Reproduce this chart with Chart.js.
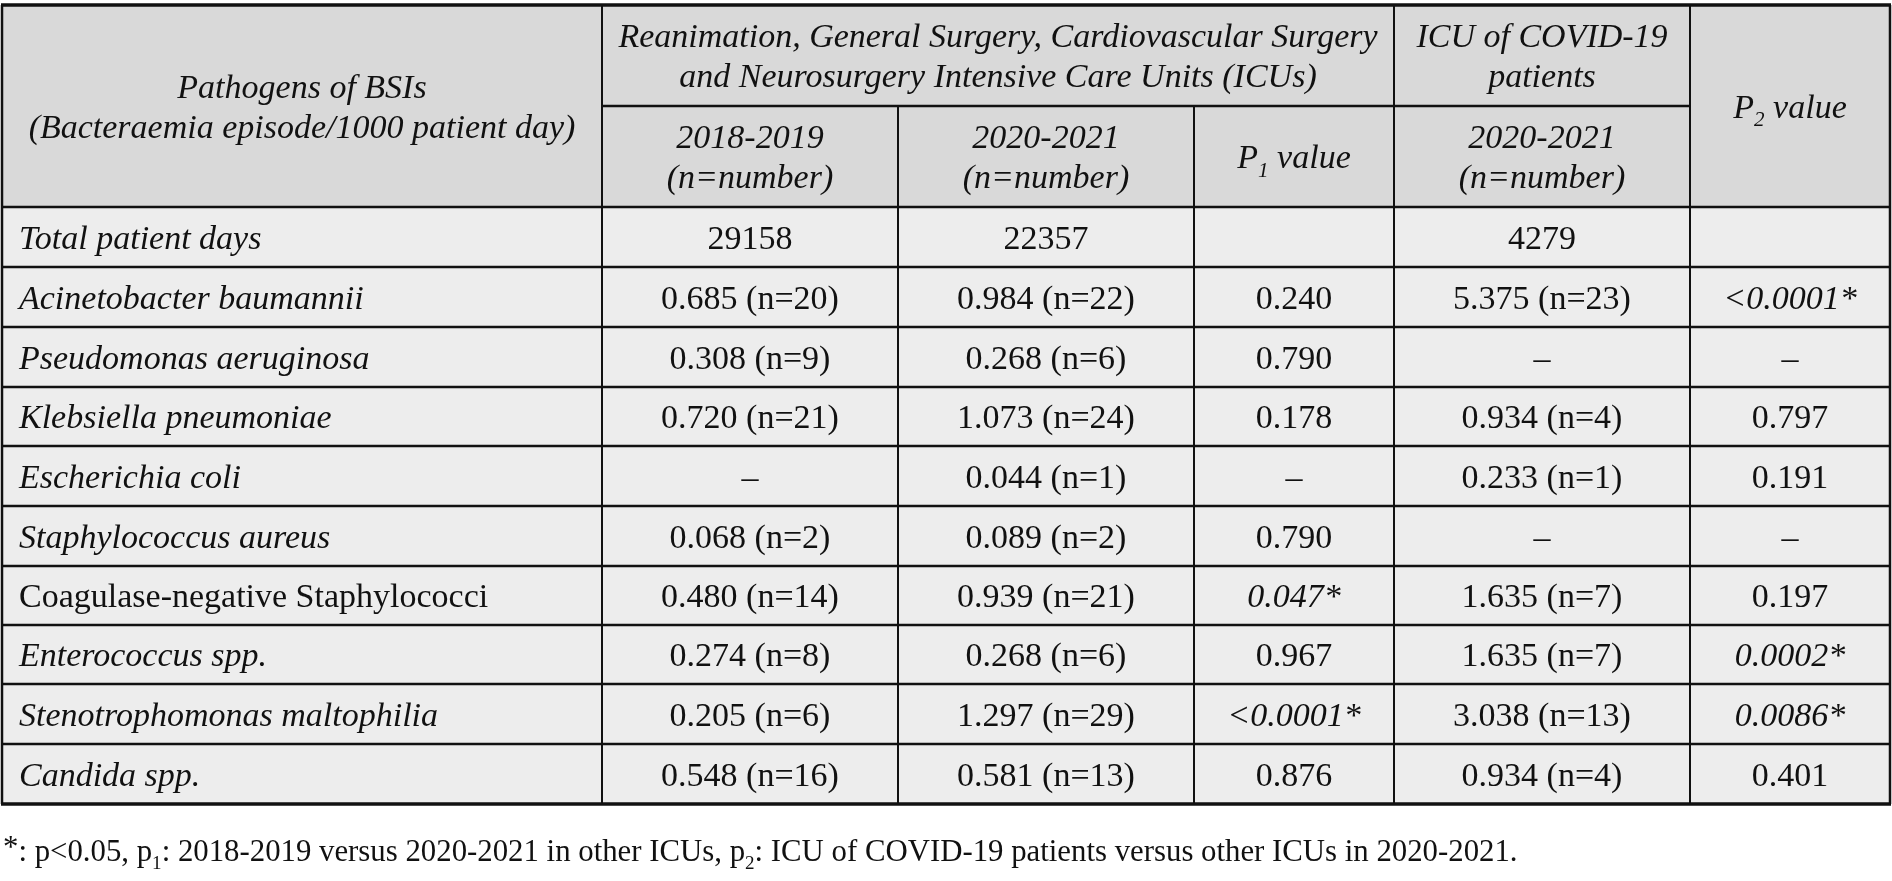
<!DOCTYPE html>
<html lang="en">
<head>
  <meta charset="UTF-8" />
  <title>Pathogens of BSIs by ICU</title>
  <script src="https://cdn.jsdelivr.net/npm/chart.js"></script>
  <style>
    html, body { margin: 0; padding: 0; background: #fff; }
    #wrap { width: 1892px; height: 881px; position: relative; }
  </style>
</head>
<body>
  <div id="wrap"><canvas id="tableChart"></canvas></div>

<script>
  // Rows of the table (first column)
  const pathogens = [
    'Acinetobacter baumannii', 'Pseudomonas aeruginosa', 'Klebsiella pneumoniae',
    'Escherichia coli', 'Staphylococcus aureus', 'Coagulase-negative Staphylococci',
    'Enterococcus spp.', 'Stenotrophomonas maltophilia', 'Candida spp.'
  ];
  const italicName = [true, true, true, true, true, false, true, true, true];

  const totalPatientDays = [29158, 22357, null, 4279, null];

  // rates (episode/1000 patient day) and counts
  const rate2018 = [0.685, 0.308, 0.720, null, 0.068, 0.480, 0.274, 0.205, 0.548];
  const n2018    = [20, 9, 21, null, 2, 14, 8, 6, 16];
  const rate2020 = [0.984, 0.268, 1.073, 0.044, 0.089, 0.939, 0.268, 1.297, 0.581];
  const n2020    = [22, 6, 24, 1, 2, 21, 6, 29, 13];
  const p1Values = ['0.240', '0.790', '0.178', null, '0.790', '0.047', '0.967', '<0.0001', '0.876'];
  const rateCovid = [5.375, null, 0.934, 0.233, null, 1.635, 1.635, 3.038, 0.934];
  const nCovid    = [23, null, 4, 1, null, 7, 7, 13, 4];
  const p2Values = ['<0.0001', null, '0.797', '0.191', null, '0.197', '0.0002', '0.0086', '0.401'];

  // table grid in reference units (0..1892 x 0..881)
  const colEdges = [2, 602, 898, 1194, 1394, 1690, 1890];
  const rowEdges = [5, 106, 207, 267, 327, 387, 446, 506, 566, 625, 684, 744, 804];

  const FONT = '"Liberation Serif", "Times New Roman", serif';
  const SIZE = 34;

  function fmtRate(r, n) {
    return r === null ? '–' : r.toFixed(3) + ' (n=' + n + ')';
  }
  function pCell(p) {
    if (p === null) return [{ t: '–' }];
    const sig = p.startsWith('<') || parseFloat(p) < 0.05;
    return sig ? [{ t: p + '*', it: true }] : [{ t: p }];
  }

  function runFont(r, size) {
    const s = r.sub ? size * 0.62 : size;
    return (r.it ? 'italic ' : '') + s + 'px ' + FONT;
  }
  function runsWidth(ctx, runs, size) {
    let w = 0;
    runs.forEach(r => { ctx.font = runFont(r, size); w += ctx.measureText(r.t).width; });
    return w;
  }
  function drawRuns(ctx, runs, px, py, align, size) {
    const w = runsWidth(ctx, runs, size);
    let cx = align === 'center' ? px - w / 2 : px;
    ctx.textAlign = 'left';
    ctx.textBaseline = 'alphabetic';
    runs.forEach(r => {
      ctx.font = runFont(r, size);
      const dy = r.sub ? size * 0.26 : (r.sup ? -size * 0.12 : 0);
      ctx.fillText(r.t, cx, py + dy);
      cx += ctx.measureText(r.t).width;
    });
  }

  const headerCells = [
    { c0: 0, c1: 1, r0: 0, r1: 2, lines: [[{ t: 'Pathogens of BSIs', it: true }], [{ t: '(Bacteraemia episode/1000 patient day)', it: true }]] },
    { c0: 1, c1: 4, r0: 0, r1: 1, lines: [[{ t: 'Reanimation, General Surgery, Cardiovascular Surgery', it: true }], [{ t: 'and Neurosurgery Intensive Care Units (ICUs)', it: true }]] },
    { c0: 4, c1: 5, r0: 0, r1: 1, lines: [[{ t: 'ICU of COVID-19', it: true }], [{ t: 'patients', it: true }]] },
    { c0: 5, c1: 6, r0: 0, r1: 2, lines: [[{ t: 'P', it: true }, { t: '2', it: true, sub: true }, { t: ' value', it: true }]] },
    { c0: 1, c1: 2, r0: 1, r1: 2, lines: [[{ t: '2018-2019', it: true }], [{ t: '(n=number)', it: true }]] },
    { c0: 2, c1: 3, r0: 1, r1: 2, lines: [[{ t: '2020-2021', it: true }], [{ t: '(n=number)', it: true }]] },
    { c0: 3, c1: 4, r0: 1, r1: 2, lines: [[{ t: 'P', it: true }, { t: '1', it: true, sub: true }, { t: ' value', it: true }]] },
    { c0: 4, c1: 5, r0: 1, r1: 2, lines: [[{ t: '2020-2021', it: true }], [{ t: '(n=number)', it: true }]] }
  ];

  const footnote = [
    { t: '*', sup: true }, { t: ': p<0.05, p' }, { t: '1', sub: true }, { t: ': 2018-2019 versus 2020-2021 in other ICUs, p' },
    { t: '2', sub: true }, { t: ': ICU of COVID-19 patients versus other ICUs in 2020-2021.' }
  ];

  // body rows as rich-text cells
  const bodyRows = [];
  bodyRows.push([[{ t: 'Total patient days', it: true }]].concat(
    totalPatientDays.map(v => v === null ? [] : [{ t: String(v) }])));
  pathogens.forEach((name, i) => {
    bodyRows.push([
      [{ t: name, it: italicName[i] }],
      [{ t: fmtRate(rate2018[i], n2018[i]) }],
      [{ t: fmtRate(rate2020[i], n2020[i]) }],
      pCell(p1Values[i]),
      [{ t: fmtRate(rateCovid[i], nCovid[i]) }],
      pCell(p2Values[i])
    ]);
  });

  const tablePlugin = {
    id: 'tableDraw',
    afterDraw(chart) {
      const { ctx, scales: { x, y } } = chart;
      const X = v => x.getPixelForValue(v);
      const Y = v => y.getPixelForValue(v);
      const CX = i => X(colEdges[i]);
      const RY = i => Y(rowEdges[i]);
      ctx.save();

      // backgrounds
      ctx.fillStyle = '#d9d9d9';
      ctx.fillRect(CX(0), RY(0), CX(6) - CX(0), RY(2) - RY(0));
      ctx.fillStyle = '#ededed';
      ctx.fillRect(CX(0), RY(2), CX(6) - CX(0), RY(rowEdges.length - 1) - RY(2));

      // grid lines
      ctx.strokeStyle = '#111';
      const hLine = (r, c0, c1, w) => {
        ctx.lineWidth = w; ctx.beginPath();
        ctx.moveTo(CX(c0) - 1, RY(r)); ctx.lineTo(CX(c1) + 1, RY(r)); ctx.stroke();
      };
      const vLine = (c, r0, r1, w) => {
        ctx.lineWidth = w; ctx.beginPath();
        ctx.moveTo(CX(c), RY(r0)); ctx.lineTo(CX(c), RY(r1)); ctx.stroke();
      };
      const last = rowEdges.length - 1;
      for (let r = 2; r < last; r++) hLine(r, 0, 6, 2.5);
      hLine(1, 1, 5, 2.5);
      vLine(2, 1, last, 2);
      vLine(3, 1, last, 2);
      vLine(1, 0, last, 2);
      vLine(4, 0, last, 2);
      vLine(5, 0, last, 2);
      vLine(0, 0, last, 2.5);
      vLine(6, 0, last, 2.5);
      hLine(0, 0, 6, 3.5);
      hLine(last, 0, 6, 3.5);

      ctx.fillStyle = '#111';
      const lh = 40;

      // header
      headerCells.forEach(h => {
        const cx = (CX(h.c0) + CX(h.c1)) / 2;
        const cy = (RY(h.r0) + RY(h.r1)) / 2;
        const n = h.lines.length;
        h.lines.forEach((runs, i) => {
          drawRuns(ctx, runs, cx, cy - (n - 1) * lh / 2 + i * lh + SIZE * 0.34, 'center', SIZE);
        });
      });

      // body
      bodyRows.forEach((cells, ri) => {
        const cy = (RY(ri + 2) + RY(ri + 3)) / 2 + SIZE * 0.34;
        cells.forEach((runs, ci) => {
          if (!runs.length) return;
          if (ci === 0) drawRuns(ctx, runs, CX(0) + 17, cy, 'left', SIZE);
          else drawRuns(ctx, runs, (CX(ci) + CX(ci + 1)) / 2, cy, 'center', SIZE);
        });
      });

      // footnote
      drawRuns(ctx, footnote, X(3), Y(861), 'left', 30.8);
      ctx.restore();
    }
  };

  new Chart(document.getElementById('tableChart'), {
    type: 'scatter',
    data: { datasets: [{ data: [], pointRadius: 0 }] },
    options: {
      responsive: true,
      maintainAspectRatio: false,
      animation: false,
      layout: { padding: 0 },
      plugins: { legend: { display: false }, tooltip: { enabled: false } },
      scales: {
        x: { type: 'linear', min: 0, max: 1892, display: false },
        y: { type: 'linear', min: 0, max: 881, reverse: true, display: false }
      }
    },
    plugins: [tablePlugin]
  });
</script>
</body>
</html>
